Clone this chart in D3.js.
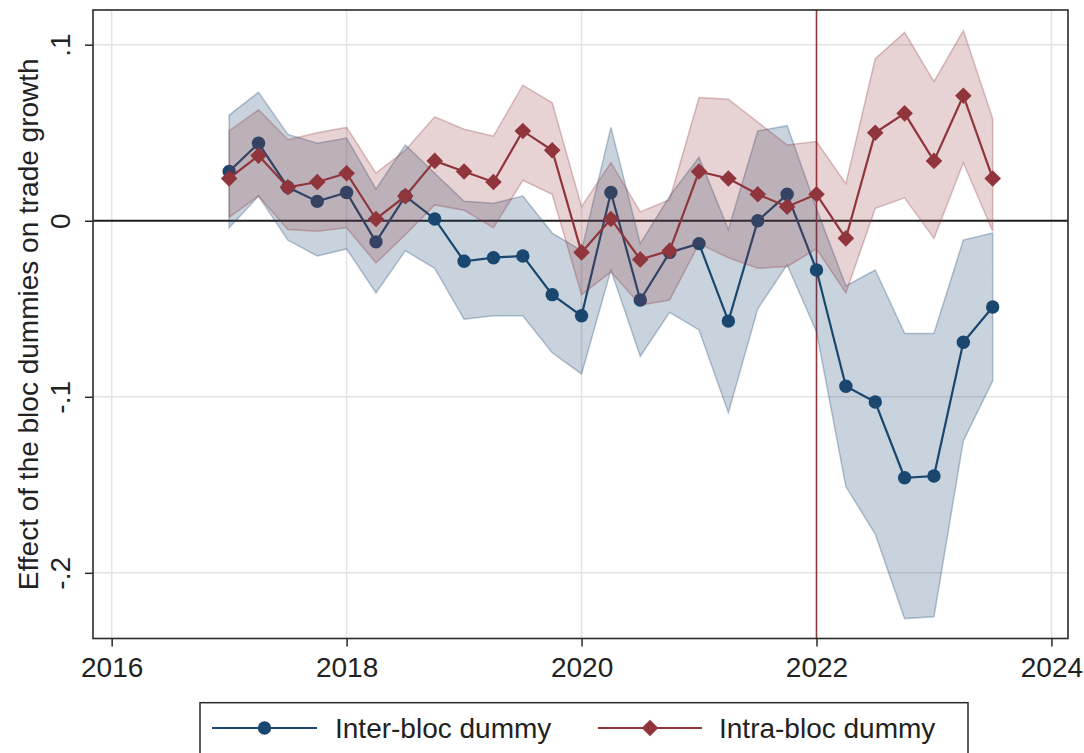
<!DOCTYPE html>
<html>
<head>
<meta charset="utf-8">
<script src="https://cdn.jsdelivr.net/npm/d3@7"></script>
<style>
  html, body { margin: 0; padding: 0; background: #fff; }
  svg { display: block; font-family: "Liberation Sans", Arial, Helvetica, sans-serif; }
</style>
</head>
<body>
<svg id="chart" width="1084" height="753"></svg>
<script>
// ---- Data ----
const quarters = [2017.00, 2017.25, 2017.50, 2017.75, 2018.00, 2018.25, 2018.50, 2018.75,
                  2019.00, 2019.25, 2019.50, 2019.75, 2020.00, 2020.25, 2020.50, 2020.75,
                  2021.00, 2021.25, 2021.50, 2021.75, 2022.00, 2022.25, 2022.50, 2022.75,
                  2023.00, 2023.25, 2023.50];

const interEst = [0.028, 0.044, 0.019, 0.011, 0.016, -0.012, 0.014, 0.001,
                  -0.023, -0.021, -0.020, -0.042, -0.054, 0.016, -0.045, -0.018,
                  -0.013, -0.057, 0.000, 0.015, -0.028, -0.094, -0.103, -0.146,
                  -0.145, -0.069, -0.049];
const interHi  = [0.060, 0.073, 0.049, 0.044, 0.047, 0.018, 0.043, 0.027,
                  0.011, 0.010, 0.014, -0.007, -0.017, 0.053, -0.013, 0.014,
                  0.036, -0.005, 0.051, 0.054, 0.007, -0.037, -0.028, -0.064,
                  -0.064, -0.011, -0.007];
const interLo  = [-0.004, 0.014, -0.011, -0.020, -0.016, -0.041, -0.017, -0.027,
                  -0.056, -0.054, -0.054, -0.075, -0.087, -0.028, -0.077, -0.052,
                  -0.062, -0.109, -0.050, -0.025, -0.063, -0.151, -0.178, -0.226,
                  -0.225, -0.125, -0.091];

const intraEst = [0.024, 0.037, 0.019, 0.022, 0.027, 0.001, 0.014, 0.034,
                  0.028, 0.022, 0.051, 0.040, -0.018, 0.001, -0.022, -0.017,
                  0.028, 0.024, 0.015, 0.008, 0.015, -0.010, 0.050, 0.061,
                  0.034, 0.071, 0.024];
const intraHi  = [0.051, 0.063, 0.046, 0.050, 0.053, 0.027, 0.040, 0.059,
                  0.052, 0.048, 0.077, 0.067, 0.008, 0.033, 0.005, 0.012,
                  0.070, 0.069, 0.056, 0.043, 0.045, 0.021, 0.092, 0.107,
                  0.079, 0.108, 0.058];
const intraLo  = [0.002, 0.014, -0.005, -0.006, -0.004, -0.024, -0.008, 0.009,
                  0.006, -0.004, 0.023, 0.015, -0.042, -0.029, -0.048, -0.045,
                  -0.013, -0.021, -0.027, -0.026, -0.016, -0.041, 0.007, 0.013,
                  -0.010, 0.033, -0.006];

const xTicks = [2016, 2018, 2020, 2022, 2024];
const xTickLabels = ["2016", "2018", "2020", "2022", "2024"];
const xGrid = [2016, 2017, 2018, 2019, 2020, 2021, 2022, 2023, 2024];
const yTicks = [0.1, 0, -0.1, -0.2];
const yTickLabels = [".1", "0", "-.1", "-.2"];
const seriesNames = ["Inter-bloc dummy", "Intra-bloc dummy"];
const yTitle = "Effect of the bloc dummies on trade growth";
const eventYear = 2022;

// ---- Layout ----
const plot = { left: 93, right: 1068, top: 10, bottom: 638.5 };
const blue = "#1a476f", red = "#90353b";
const fontSize = 28;

const svg = d3.select("#chart");
const x = d3.scaleLinear().domain([2015.841, 2024.141]).range([plot.left, plot.right]);
const y = d3.scaleLinear().domain([-0.2373, 0.1197]).range([plot.bottom, plot.top]);

// gridlines
svg.append("g").selectAll("line").data(yTicks.filter(d => d !== 0)).join("line")
  .attr("x1", plot.left).attr("x2", plot.right)
  .attr("y1", d => y(d)).attr("y2", d => y(d))
  .attr("stroke", "#e3e3e3").attr("stroke-width", 1.5);
svg.append("g").selectAll("line").data(xGrid.filter(d => xTicks.includes(d) && d !== eventYear)).join("line")
  .attr("y1", plot.top).attr("y2", plot.bottom)
  .attr("x1", d => x(d)).attr("x2", d => x(d))
  .attr("stroke", "#e3e3e3").attr("stroke-width", 1.5);

// reference lines
svg.append("line")
  .attr("x1", plot.left).attr("x2", plot.right)
  .attr("y1", y(0)).attr("y2", y(0))
  .attr("stroke", "#1e1e1e").attr("stroke-width", 2.2);
svg.append("line")
  .attr("x1", x(eventYear)).attr("x2", x(eventYear))
  .attr("y1", plot.top).attr("y2", plot.bottom)
  .attr("stroke", red).attr("stroke-width", 1.6);

const idx = d3.range(quarters.length);
function band(lo, hi) {
  return d3.area().x(i => x(quarters[i])).y0(i => y(lo[i])).y1(i => y(hi[i]))(idx);
}
const line = est => d3.line().x(i => x(quarters[i])).y(i => y(est[i]))(idx);
const diamond = s => `M0,${-s}L${s},0L0,${s}L${-s},0Z`;

// Inter-bloc band + line
svg.append("path").attr("d", band(interLo, interHi))
  .attr("fill", blue).attr("fill-opacity", 0.24)
  .attr("stroke", blue).attr("stroke-opacity", 0.3).attr("stroke-width", 1.5);
svg.append("path").attr("d", line(interEst))
  .attr("fill", "none").attr("stroke", blue).attr("stroke-width", 2.2);
svg.append("g").selectAll("circle").data(idx).join("circle")
  .attr("cx", i => x(quarters[i])).attr("cy", i => y(interEst[i]))
  .attr("r", 6.7).attr("fill", blue);

// Intra-bloc band + line
svg.append("path").attr("d", band(intraLo, intraHi))
  .attr("fill", red).attr("fill-opacity", 0.22)
  .attr("stroke", red).attr("stroke-opacity", 0.3).attr("stroke-width", 1.5);
svg.append("path").attr("d", line(intraEst))
  .attr("fill", "none").attr("stroke", red).attr("stroke-width", 2.2);
svg.append("g").selectAll("path").data(idx).join("path")
  .attr("transform", i => `translate(${x(quarters[i])},${y(intraEst[i])})`)
  .attr("d", diamond(8.3)).attr("fill", red);

// frame
svg.append("rect")
  .attr("x", plot.left).attr("y", plot.top)
  .attr("width", plot.right - plot.left).attr("height", plot.bottom - plot.top)
  .attr("fill", "none").attr("stroke", "#2a2a2a").attr("stroke-width", 1.6);

// axes
const yAxis = svg.append("g").attr("transform", `translate(${plot.left},0)`)
  .call(d3.axisLeft(y).tickValues(yTicks).tickSize(8).tickFormat((d, i) => yTickLabels[i]));
yAxis.select(".domain").remove();
yAxis.selectAll(".tick line").attr("stroke", "#2a2a2a").attr("stroke-width", 1.5);
yAxis.selectAll(".tick text")
  .attr("transform", "rotate(-90)").attr("x", 0).attr("y", -23).attr("dy", 0)
  .attr("text-anchor", "middle").attr("font-size", fontSize).attr("fill", "#222");

const xAxis = svg.append("g").attr("transform", `translate(0,${plot.bottom})`)
  .call(d3.axisBottom(x).tickValues(xTicks).tickSize(8).tickFormat((d, i) => xTickLabels[i]));
xAxis.select(".domain").remove();
xAxis.selectAll(".tick line").attr("stroke", "#2a2a2a").attr("stroke-width", 1.5);
xAxis.selectAll(".tick text").attr("y", 38).attr("dy", 0)
  .attr("font-size", fontSize).attr("fill", "#222");

// y title
svg.append("text")
  .attr("transform", `translate(38,${(plot.top + plot.bottom) / 2}) rotate(-90)`)
  .attr("text-anchor", "middle").attr("font-size", fontSize).attr("fill", "#222")
  .text(yTitle);

// legend
const lg = svg.append("g");
lg.append("rect").attr("x", 200).attr("y", 702.7).attr("width", 768).attr("height", 70)
  .attr("fill", "#fff").attr("stroke", "#2a2a2a").attr("stroke-width", 1.5);
const items = [
  { name: seriesNames[0], color: blue, x0: 212, x1: 317, tx: 335, mark: "circle" },
  { name: seriesNames[1], color: red, x0: 598, x1: 702, tx: 719, mark: "diamond" }
];
items.forEach(it => {
  lg.append("line").attr("x1", it.x0).attr("x2", it.x1).attr("y1", 728).attr("y2", 728)
    .attr("stroke", it.color).attr("stroke-width", 2.2);
  const cx = (it.x0 + it.x1) / 2;
  if (it.mark === "circle") {
    lg.append("circle").attr("cx", cx).attr("cy", 728).attr("r", 6.7).attr("fill", it.color);
  } else {
    lg.append("path").attr("transform", `translate(${cx},728)`).attr("d", diamond(8.3)).attr("fill", it.color);
  }
  lg.append("text").attr("x", it.tx).attr("y", 738).attr("font-size", fontSize).attr("fill", "#222")
    .text(it.name);
});
</script>
</body>
</html>
